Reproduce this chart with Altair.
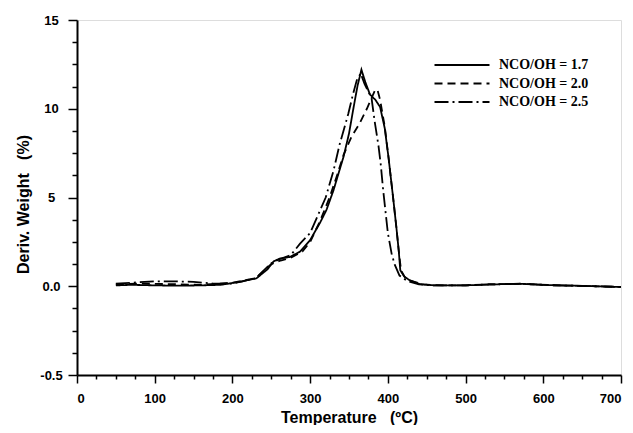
import altair as alt
import pandas as pd

series_names = ["NCO/OH = 1.7", "NCO/OH = 2.0", "NCO/OH = 2.5"]

t_17 = [50, 70, 100, 130, 160, 185, 210, 231, 245, 253, 261, 274, 287, 300, 313, 321, 330, 343, 350, 356, 361, 366,
        371, 377, 384, 390, 396, 401, 407, 411, 414, 416, 421, 428, 441, 460, 500, 530, 570, 610, 650, 700]
w_17 = [0.05, 0.08, 0.05, 0.03, 0.05, 0.08, 0.25, 0.45, 0.95, 1.4, 1.56, 1.65, 1.95, 2.6, 3.6, 4.3, 5.4, 7.3, 8.6, 10.1, 11.3, 12.2,
        11.5, 10.8, 10.5, 10.1, 8.9, 7.2, 4.9, 3.3, 2.0, 0.9, 0.55, 0.34, 0.12, 0.05, 0.05, 0.1, 0.14, 0.06, 0.02, -0.04]

t_20 = [50, 80, 120, 160, 200, 230, 250, 262, 275, 290, 300, 313, 325, 335, 343, 353, 364, 373, 380, 384, 387,
        390, 396, 401, 407, 411, 414, 417, 422, 430, 445, 470, 500, 530, 570, 610, 650, 700]
w_20 = [0.1, 0.15, 0.12, 0.08, 0.2, 0.45, 1.25, 1.45, 1.6, 1.95, 2.5, 3.7, 5.0, 6.3, 7.4, 8.4, 9.2, 10.0, 10.7, 11.1, 11.0,
        10.5, 9.0, 7.2, 4.9, 3.3, 2.0, 0.9, 0.5, 0.3, 0.1, 0.05, 0.05, 0.1, 0.14, 0.06, 0.02, -0.04]

t_25 = [50, 70, 100, 130, 150, 175, 200, 230, 250, 262, 275, 287, 300, 308, 320, 330, 338, 349, 355, 360, 365,
        370, 379, 383, 388, 391, 394, 400, 405, 409, 415, 425, 440, 460, 500, 530, 570, 610, 650, 700]
w_25 = [0.15, 0.2, 0.28, 0.27, 0.25, 0.15, 0.15, 0.45, 1.3, 1.55, 1.75, 2.4, 3.0, 3.8, 5.0, 6.5, 8.0, 9.7, 10.8, 11.6, 12.0,
        11.4, 10.6, 9.3, 7.9, 6.8, 5.4, 3.0, 1.8, 1.2, 0.6, 0.3, 0.1, 0.05, 0.05, 0.1, 0.14, 0.06, 0.02, -0.04]

x_ticks = list(range(0, 701, 25))
y_ticks = [-5 + 1.25 * i for i in range(17)]

rows = []
for name, ts, ws in zip(series_names, [t_17, t_20, t_25], [w_17, w_20, w_25]):
    for i, (t, w) in enumerate(zip(ts, ws)):
        rows.append({"series": name, "T": t, "W": w, "i": i})
df = pd.DataFrame(rows)

y_label_expr = ("datum.value == -5 ? '-0.5' : datum.value == 0 ? '0.0' : "
                "(datum.value % 5 == 0 ? format(datum.value, 'd') : '')")

nb = "\u00a0"

chart = alt.Chart(df).mark_line(strokeWidth=1.8, color="black").encode(
    x=alt.X("T:Q", scale=alt.Scale(domain=[0, 700], nice=False, zero=False),
            axis=alt.Axis(title=f"Temperature{nb}{nb}{nb}(ºC)", values=x_ticks,
                          labelExpr="datum.value % 100 == 0 ? datum.value : ''",
                          labelOverlap=False, grid=False,
                          tickSize={"condition": {"test": "datum.value % 100 == 0", "value": 8}, "value": 4},
                          tickWidth=1.5, tickColor="black", domainColor="black", domainWidth=2,
                          labelFont="Liberation Sans", labelFontWeight="bold", labelFontSize=13,
                          labelColor="black", labelPadding=9,
                          titleFont="Liberation Sans", titleFontWeight="bold", titleFontSize=16,
                          titleColor="black", titlePadding=4)),
    y=alt.Y("W:Q", scale=alt.Scale(domain=[-5, 15], nice=False, zero=False),
            axis=alt.Axis(title=f"Deriv.{nb}Weight{nb}{nb}{nb}(%)", values=y_ticks,
                          labelExpr=y_label_expr, labelOverlap=False, grid=False,
                          tickSize={"condition": {"test": "datum.value % 5 == 0", "value": 9}, "value": 5},
                          tickWidth=1.5, tickColor="black", domainColor="black", domainWidth=2,
                          labelFont="Liberation Sans", labelFontWeight="bold", labelFontSize=13,
                          labelColor="black", labelPadding=17, labelAlign="center",
                          titleFont="Liberation Sans", titleFontWeight="bold", titleFontSize=16,
                          titleColor="black", titlePadding=8, titleY=184)),
    strokeDash=alt.StrokeDash("series:N",
                              scale=alt.Scale(domain=series_names,
                                              range=[[1, 0], [8, 5], [14, 4, 2, 4]]),
                              legend=alt.Legend(title=None, orient="none", legendX=374, legendY=34,
                                                symbolType="M-2.75,0H2.75", symbolSize=400,
                                                symbolStrokeWidth=2, symbolStrokeColor="black",
                                                symbolFillColor="transparent",
                                                labelFont="Liberation Serif", labelFontWeight="bold",
                                                labelFontSize=14, labelColor="black",
                                                labelOffset=26, rowPadding=0.5)),
    detail="series:N",
    order="i:Q",
).properties(
    width=544, height=355,
    autosize=alt.AutoSizeParams(type="none"),
    padding={"left": 69, "top": 12, "right": 4, "bottom": 50},
).configure_view(stroke="black", strokeWidth=2).configure(background="white")

chart.save("out.html", embed_options={"renderer": "svg", "actions": False})
